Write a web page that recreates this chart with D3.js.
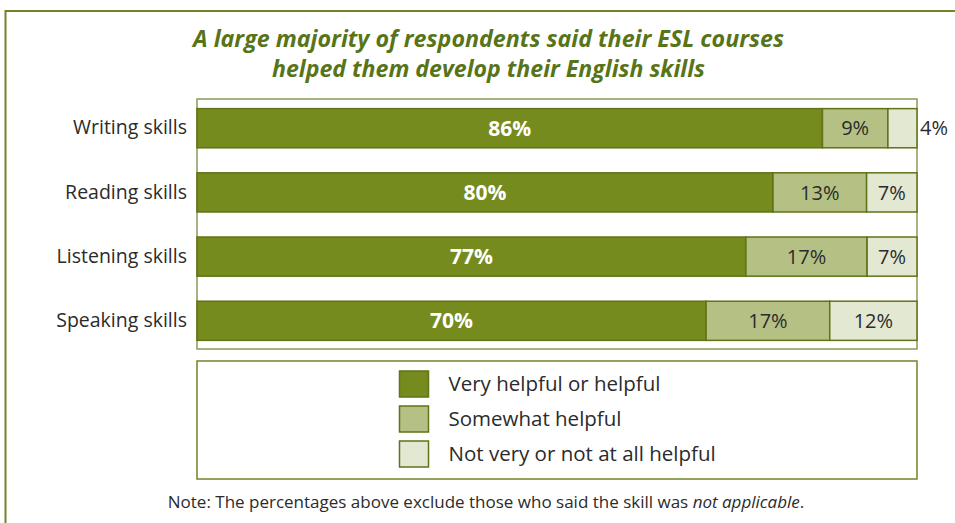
<!DOCTYPE html>
<html>
<head>
<meta charset="utf-8">
<script src="https://cdn.jsdelivr.net/npm/d3@7"></script>
<style>
  html, body { margin: 0; padding: 0; background: #fff; }
  svg { display: block; }
  text { font-family: "Open Sans", "Noto Sans", sans-serif; }
</style>
</head>
<body>
<svg id="chart" width="955" height="523"></svg>
<script>
// Survey results: how helpful ESL courses were for each English skill
const skills = ["Writing skills", "Reading skills", "Listening skills", "Speaking skills"];
const veryHelpful = [86, 80, 77, 70];
const somewhatHelpful = [9, 13, 17, 17];
const notHelpful = [4, 7, 7, 12];

const seriesKeys = ["very", "somewhat", "not"];
const legendLabels = ["Very helpful or helpful", "Somewhat helpful", "Not very or not at all helpful"];
const fills = ["#768b1e", "#b5c184", "#e3e8d3"];
const labelColors = ["#ffffff", "#2b2b2b", "#2b2b2b"];

const titleLines = [
  "A large majority of respondents said their ESL courses",
  "helped them develop their English skills"
];
const noteText = ["Note: The percentages above exclude those who said the skill was ", "not applicable", "."];

const rows = skills.map((s, i) => ({
  skill: s,
  very: veryHelpful[i],
  somewhat: somewhatHelpful[i],
  not: notHelpful[i]
}));

const svg = d3.select("#chart");
const W = 955, H = 523;

// outer frame (continues past the right and bottom edges)
svg.append("rect")
  .attr("x", 5.5).attr("y", 11)
  .attr("width", W + 20).attr("height", H + 20)
  .attr("fill", "none")
  .attr("stroke", "#6f8528")
  .attr("stroke-width", 2);

// title
const titleWidths = [591, 433];
svg.append("g").selectAll("text")
  .data(titleLines)
  .join("text")
  .attr("x", 488.5)
  .attr("y", (d, i) => 47 + i * 30)
  .attr("text-anchor", "middle")
  .attr("textLength", (d, i) => titleWidths[i])
  .attr("lengthAdjust", "spacingAndGlyphs")
  .attr("font-family", "Lato, 'Open Sans', sans-serif")
  .attr("font-size", 24)
  .attr("font-weight", "bold")
  .attr("font-style", "italic")
  .attr("fill", "#587419")
  .text(d => d);

// plot area
const plot = { left: 197, right: 917, top: 99, bottom: 349 };

const x = d3.scaleLinear().domain([0, 1]).range([plot.left, plot.right]);
const y = d3.scaleBand()
  .domain(skills)
  .range([plot.top, plot.bottom + 1])
  .paddingInner(0.39)
  .paddingOuter(0.15);

svg.append("rect")
  .attr("x", plot.left).attr("y", plot.top)
  .attr("width", plot.right - plot.left)
  .attr("height", plot.bottom - plot.top)
  .attr("fill", "none")
  .attr("stroke", "#8a9b55")
  .attr("stroke-width", 1.5);

const stack = d3.stack().keys(seriesKeys).offset(d3.stackOffsetExpand);
const stacked = stack(rows);

const layers = svg.append("g").selectAll("g")
  .data(stacked)
  .join("g")
  .attr("fill", (d, i) => fills[i]);

layers.selectAll("rect")
  .data(d => d)
  .join("rect")
  .attr("x", d => x(d[0]))
  .attr("y", d => y(d.data.skill))
  .attr("width", d => x(d[1]) - x(d[0]))
  .attr("height", y.bandwidth())
  .attr("stroke", "#5f7317")
  .attr("stroke-width", 1.5);

// value labels
stacked.forEach((layer, li) => {
  svg.append("g").selectAll("text")
    .data(layer)
    .join("text")
    .each(function (d) {
      const x0 = x(d[0]), x1 = x(d[1]);
      const narrow = (x1 - x0) < 40;
      d3.select(this)
        .attr("x", narrow ? x1 + 3 : (x0 + x1) / 2)
        .attr("text-anchor", narrow ? "start" : "middle")
        .attr("fill", narrow ? "#2b2b2b" : labelColors[li]);
    })
    .attr("y", d => y(d.data.skill) + y.bandwidth() / 2)
    .attr("dy", "0.36em")
    .attr("font-size", li === 0 ? 21 : 20)
    .attr("font-weight", li === 0 ? "bold" : "normal")
    .text(d => d.data[seriesKeys[li]] + "%");
});

// category axis
const yAxis = svg.append("g")
  .attr("transform", `translate(${plot.left},0)`)
  .call(d3.axisLeft(y).tickSize(0).tickPadding(10));
yAxis.select(".domain").remove();
yAxis.selectAll("text")
  .attr("font-family", "'Open Sans', 'Noto Sans', sans-serif")
  .attr("font-size", 19.5)
  .attr("fill", "#2b2b2b");

// legend
const legend = { left: 197, top: 361, right: 917, bottom: 479 };
svg.append("rect")
  .attr("x", legend.left).attr("y", legend.top)
  .attr("width", legend.right - legend.left)
  .attr("height", legend.bottom - legend.top)
  .attr("fill", "none")
  .attr("stroke", "#6f8528")
  .attr("stroke-width", 1.5);

const legendItems = svg.append("g").selectAll("g")
  .data(legendLabels)
  .join("g")
  .attr("transform", (d, i) => `translate(399.5,${371 + i * 35})`);

legendItems.append("rect")
  .attr("width", 29).attr("height", 26)
  .attr("fill", (d, i) => fills[i])
  .attr("stroke", "#5f7317")
  .attr("stroke-width", 1.5);

legendItems.append("text")
  .attr("x", 49)
  .attr("y", 13)
  .attr("dy", "0.36em")
  .attr("font-size", 20.5)
  .attr("fill", "#2b2b2b")
  .text(d => d);

// footnote
const note = svg.append("text")
  .attr("x", 486)
  .attr("y", 508)
  .attr("text-anchor", "middle")
  .attr("font-size", 17)
  .attr("fill", "#2b2b2b");
note.selectAll("tspan")
  .data(noteText)
  .join("tspan")
  .attr("font-style", (d, i) => i === 1 ? "italic" : "normal")
  .text(d => d);
</script>
</body>
</html>
